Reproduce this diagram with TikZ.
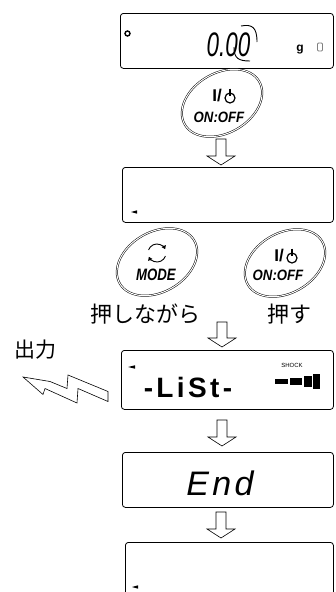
\documentclass[tikz,border=0pt]{standalone}
\usepackage{fontspec}
\setmainfont{Liberation Sans}
\newfontfamily\jpfont{Noto Sans CJK JP}
\usetikzlibrary{calc,shapes.geometric,arrows.meta}
\begin{document}
\begin{tikzpicture}[x=1pt,y=-1pt,
  lcd/.style={draw=black, line width=0.8pt, rounded corners=3pt, inner sep=0pt, anchor=north west},
  btn/.style={ellipse, draw=black, double=white, double distance=1pt, line width=0.5pt,
              minimum width=86pt, minimum height=60pt, inner sep=0pt, rotate=30},
  barr/.style={draw=black, line width=0.6pt, fill=white},
  blk/.style={to path={let \p1=(\tikztostart), \p2=(\tikztotarget) in
     (\x1-5pt,\y1) -- (\x1-5pt,\y2+9pt) -- (\x1-14pt,\y2+9pt) -- (\x1,\y2)
     -- (\x1+14pt,\y2+9pt) -- (\x1+5pt,\y2+9pt) -- (\x1+5pt,\y1) -- cycle}},
  btxt/.style={font=\fontsize{15}{15}\selectfont\bfseries\itshape, inner sep=0pt},
  itxt/.style={font=\fontsize{17}{17}\selectfont\bfseries, inner sep=0pt},
  pwr/.style={line width=1.2pt},
  jp/.style={font=\jpfont\fontsize{22}{22}\selectfont, inner sep=0pt}]
\useasboundingbox (0,0) rectangle (335,592);

% ---------- display 1 ----------
\node[lcd, minimum width=213pt, minimum height=55pt] (d1) at (120,13) {};
\node[circle, draw, line width=1.4pt, minimum size=5pt, inner sep=0pt] (deg) at (127.5,33.5) {};
\node[font=\fontsize{34}{34}\selectfont\itshape, xscale=0.66, inner sep=0pt] (v1) at (228.5,45) {0.00};
\draw[line width=0.9pt] (241,26) .. controls (252,24) and (257,27) .. (257,42);
\draw[line width=0.9pt] (234,47) .. controls (234,58) and (238,61) .. (250,61);
\node[font=\fontsize{12}{12}\selectfont\bfseries, inner sep=0pt] (g1) at (300,50) {g};
\node[draw=gray, line width=0.8pt, minimum width=5pt, minimum height=8pt, inner sep=0pt, rounded corners=1pt] (sq) at (320,47) {};

% ---------- ON:OFF 1 ----------
\node[btn] (b1) at (222,103) {};
\node[itxt] (i1) at (217,96) {I/};
\draw[pwr] (230,98) circle (5);
\draw[pwr] (230,88.5) -- (230,95.5);
\node[btxt, xscale=0.88] (o1) at (219,117.5) {ON:OFF};

% ---------- arrow 1 ----------
\coordinate (a1s) at (221,139);
\coordinate (a1e) at (221,165);
\draw[barr] (a1s) to[blk] (a1e);

% ---------- display 2 ----------
\node[lcd, minimum width=211pt, minimum height=55pt] (d2) at (122,167) {};
\fill (131,212) -- (137,210.3) -- (137,213.7) -- cycle;

% ---------- MODE ----------
\node[btn] (bm) at (157,262) {};
\draw[line width=0.9pt, -{Triangle[length=3.5pt,width=4.5pt]}] ($(157,253)+(-160:9)$) arc[start angle=-160, end angle=-25, radius=9];
\draw[line width=0.9pt, -{Triangle[length=3.5pt,width=4.5pt]}] ($(157,253)+(20:9)$) arc[start angle=20, end angle=155, radius=9];
\node[btxt, font=\fontsize{16.5}{16.5}\selectfont\bfseries\itshape, xscale=0.8] (m1) at (156,275) {MODE};

% ---------- ON:OFF 2 ----------
\node[btn] (b2) at (285,263) {};
\node[itxt] (i2) at (279,256) {I/};
\draw[pwr] (292,258) circle (5);
\draw[pwr] (292,248.5) -- (292,255.5);
\node[btxt, xscale=0.88] (o2) at (278,275) {ON:OFF};

% ---------- labels ----------
\node[jp] (l1) at (145,314) {押しながら};
\node[jp] (l2) at (289,314) {押す};

% ---------- arrow 2 ----------
\coordinate (a2s) at (222,322);
\coordinate (a2e) at (222,347);
\draw[barr] (a2s) to[blk] (a2e);

% ---------- display 3 (LiSt) ----------
\node[lcd, minimum width=212pt, minimum height=59pt] (d3) at (121,350) {};
\fill (128,367) -- (135,365.3) -- (135,368.7) -- cycle;
\node[font=\fontsize{28}{28}\selectfont\bfseries\addfontfeature{LetterSpace=12}, inner sep=0pt] (v3) at (188,387) {-LiSt-};
\node[font=\fontsize{6}{6}\selectfont, inner sep=0pt] (sh) at (292,365) {SHOCK};
\fill (275,378.5) rectangle (288,383.5);
\fill (289.5,377.5) rectangle (302,384.5);
\fill (303.5,375.5) rectangle (311.5,386.5);
\fill (313,373.5) rectangle (320,388.5);

% ---------- output ----------
\node[jp, font=\jpfont\fontsize{21}{21}\selectfont] (out) at (36,350) {出力};
\draw[line width=0.6pt, fill=white] (23,377) -- (50,381.5) -- (67,388.5) -- (68,375) -- (108,391.5)
  -- (108,401.5) -- (78,388.5) -- (77,403) -- (45,388.5) -- (43,394.5) -- cycle;

% ---------- arrow 3 ----------
\coordinate (a3s) at (222,420);
\coordinate (a3e) at (222,446);
\draw[barr] (a3s) to[blk] (a3e);

% ---------- display 4 (End) ----------
\node[lcd, minimum width=211pt, minimum height=55pt] (d4) at (122,452) {};
\node[font=\fontsize{34}{34}\selectfont\itshape\addfontfeature{LetterSpace=10}, inner sep=0pt] (v4) at (220,483) {End};

% ---------- arrow 4 ----------
\coordinate (a4s) at (221,512);
\coordinate (a4e) at (221,538);
\draw[barr] (a4s) to[blk] (a4e);

% ---------- display 5 ----------
\node[lcd, minimum width=208pt, minimum height=70pt] (d5) at (125,542) {};
\fill (132,587) -- (138,585.3) -- (138,588.7) -- cycle;
\end{tikzpicture}
\end{document}
